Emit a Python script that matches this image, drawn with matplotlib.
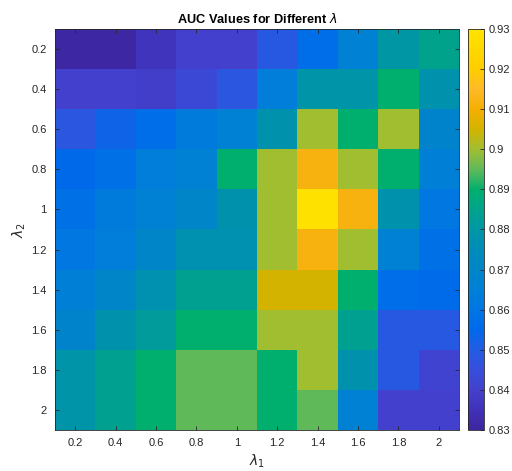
import numpy as np
import matplotlib
matplotlib.use("Agg")
import matplotlib.pyplot as plt
from matplotlib.colors import LinearSegmentedColormap

# lambda grids
lambda1 = [0.2, 0.4, 0.6, 0.8, 1.0, 1.2, 1.4, 1.6, 1.8, 2.0]
lambda2 = [0.2, 0.4, 0.6, 0.8, 1.0, 1.2, 1.4, 1.6, 1.8, 2.0]
tick_labels = ["0.2", "0.4", "0.6", "0.8", "1", "1.2", "1.4", "1.6", "1.8", "2"]

# AUC rows (one per lambda2), columns follow lambda1
auc_02 = [0.831, 0.831, 0.836, 0.840, 0.840, 0.849, 0.857, 0.866, 0.880, 0.885]
auc_04 = [0.840, 0.840, 0.839, 0.843, 0.848, 0.864, 0.879, 0.879, 0.890, 0.878]
auc_06 = [0.848, 0.853, 0.857, 0.863, 0.866, 0.878, 0.900, 0.890, 0.900, 0.869]
auc_08 = [0.855, 0.858, 0.864, 0.866, 0.890, 0.900, 0.912, 0.900, 0.890, 0.865]
auc_10 = [0.858, 0.863, 0.866, 0.870, 0.878, 0.900, 0.929, 0.912, 0.878, 0.861]
auc_12 = [0.861, 0.864, 0.870, 0.877, 0.877, 0.900, 0.912, 0.900, 0.866, 0.858]
auc_14 = [0.865, 0.870, 0.877, 0.884, 0.884, 0.905, 0.905, 0.890, 0.857, 0.856]
auc_16 = [0.869, 0.878, 0.882, 0.890, 0.890, 0.900, 0.900, 0.884, 0.849, 0.849]
auc_18 = [0.879, 0.884, 0.890, 0.895, 0.895, 0.890, 0.900, 0.878, 0.849, 0.841]
auc_20 = [0.879, 0.884, 0.890, 0.895, 0.895, 0.890, 0.895, 0.866, 0.840, 0.840]

cbar_ticks = [0.83, 0.84, 0.85, 0.86, 0.87, 0.88, 0.89, 0.90, 0.91, 0.92, 0.93]
cbar_labels = ["0.83", "0.84", "0.85", "0.86", "0.87", "0.88", "0.89", "0.9", "0.91", "0.92", "0.93"]

# parula-like colours as they appear in the original colorbar (0.83 -> 0.93)
parula_rgb = [
    (62, 38, 160), (64, 50, 185), (67, 65, 205), (55, 78, 220), (35, 92, 228),
    (0, 105, 235), (0, 118, 228), (0, 128, 215), (0, 133, 200), (0, 140, 185),
    (0, 150, 165), (0, 163, 140), (0, 176, 110), (95, 185, 90), (160, 190, 50),
    (210, 180, 0), (245, 175, 0), (255, 185, 40), (255, 205, 0), (255, 215, 0),
    (255, 228, 0),
]
parula = LinearSegmentedColormap.from_list(
    "parula", [(r / 255, g / 255, b / 255) for r, g, b in parula_rgb], N=256)

plt.rcParams["font.family"] = ["Liberation Sans", "DejaVu Sans"]
plt.rcParams["mathtext.fontset"] = "dejavusans"
text_col = (0.15, 0.15, 0.15)

auc = np.array([auc_02, auc_04, auc_06, auc_08, auc_10,
                auc_12, auc_14, auc_16, auc_18, auc_20])

fig = plt.figure(figsize=(5.12, 4.71), dpi=100)
ax = fig.add_axes([55 / 512, 1 - 430 / 471, 404 / 512, 401 / 471])
cax = fig.add_axes([468 / 512, 1 - 430 / 471, 16 / 512, 401 / 471])

step = lambda1[1] - lambda1[0]
im = ax.imshow(auc, cmap=parula, vmin=0.83, vmax=0.93, aspect="auto",
               interpolation="nearest",
               extent=[lambda1[0] - step / 2, lambda1[-1] + step / 2,
                       lambda2[-1] + step / 2, lambda2[0] - step / 2])

ax.set_xticks(lambda1)
ax.set_xticklabels(tick_labels)
ax.set_yticks(lambda2)
ax.set_yticklabels(tick_labels)
ax.tick_params(direction="in", length=3, width=0.6, top=True, right=True,
               labelsize=8, colors=text_col, labelcolor=text_col, pad=6)
for s in ax.spines.values():
    s.set_color(text_col)
    s.set_linewidth(0.6)

ax.set_title(r"AUC Values for Different $\lambda$", fontsize=9.2,
             fontweight="bold", color="black", pad=4)
ax.set_xlabel(r"$\lambda_1$", fontsize=10, color=text_col, labelpad=3)
ax.set_ylabel(r"$\lambda_2$", fontsize=10, color=text_col, labelpad=2)

cb = fig.colorbar(im, cax=cax)
cb.set_ticks(cbar_ticks)
cb.set_ticklabels(cbar_labels)
cb.ax.tick_params(direction="in", length=3, width=0.6, labelsize=8,
                  colors=text_col, labelcolor=text_col, pad=3)
cb.outline.set_edgecolor(text_col)
cb.outline.set_linewidth(0.6)

fig.savefig("out.png", dpi=100)
